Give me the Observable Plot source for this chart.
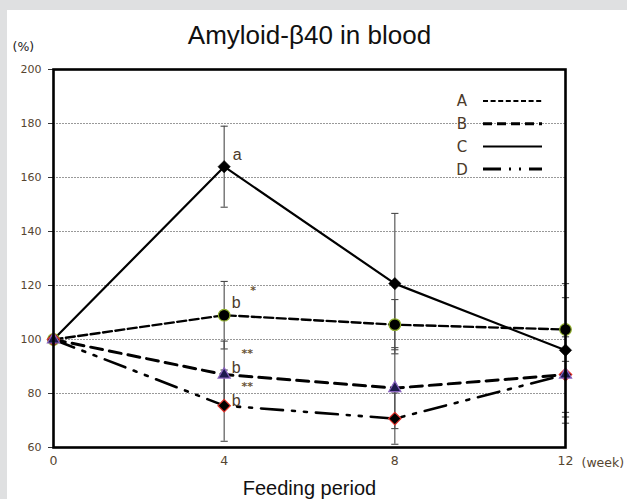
<!DOCTYPE html>
<html>
<head>
<meta charset="utf-8">
<script src="https://cdn.jsdelivr.net/npm/d3@7"></script>
<script src="https://cdn.jsdelivr.net/npm/@observablehq/plot@0.6"></script>
<style>
  html, body { margin: 0; padding: 0; width: 627px; height: 499px; overflow: hidden; background: #dfe0e1; }
  #panel { position: absolute; left: 7px; top: 10px; width: 620px; height: 489px; background: #ffffff; }
  #legend { position: absolute; left: 443px; top: 78px; }
  svg { overflow: visible; }
</style>
</head>
<body>
<div id="panel"></div>
<script>
// ---------- data ----------
const weeks = [0, 4, 8, 12];
const seriesNames = ["A", "B", "C", "D"];
const valuesA = [100, 109, 105.5, 103.7];
const errorsA = [0, 12.5, 9.3, 11.8];
const valuesB = [100, 87, 82, 87];
const errorsB = [0, 12.4, 15, 14];
const valuesC = [100, 164, 120.7, 96];
const errorsC = [0, 15, 26, 24.7];
const valuesD = [100, 75.5, 70.7, 87];
const errorsD = [0, 13.2, 9.5, 18];
const yTicks = [60, 80, 100, 120, 140, 160, 180, 200];
const yGrid = [80, 100, 120, 140, 160, 180];
const xTicks = [0, 4, 8, 12];
const titleText = "Amyloid-\u03B240 in blood";
const yUnit = "(%)";
const xUnit = "(week)";
const xTitle = "Feeding period";
// significance labels at week 4
const annotSeries = ["C", "A", "B", "D"];
const annotLetters = ["a", "b", "b", "b"];
const annotStars = ["", "*", "**", "**"];
const annotWeek = 4;

// ---------- table ----------
const valuesBy = {A: valuesA, B: valuesB, C: valuesC, D: valuesD};
const errorsBy = {A: errorsA, B: errorsB, C: errorsC, D: errorsD};
const rows = seriesNames.flatMap(s => weeks.map((w, i) => ({series: s, week: w, value: valuesBy[s][i], err: errorsBy[s][i]})));
const errRows = rows.filter(d => d.err > 0);
const caps = errRows.flatMap(d => [{week: d.week, y: d.value - d.err}, {week: d.week, y: d.value + d.err}]);

// ---------- styles ----------
const lineStyle = {
  A: {strokeWidth: 2.4, strokeDasharray: "9,3.5"},
  B: {strokeWidth: 3, strokeDasharray: "12,7"},
  C: {strokeWidth: 2.2, strokeDasharray: null},
  D: {strokeWidth: 2.6, strokeDasharray: "22,9,3,9,3,9"}
};
const legendDash = {A: "5,2.6", B: "9,5", C: null, D: "18,8,2,8,2,8"};
const legendWidth = {A: 2, B: 3, C: 2, D: 3};
const dotStyle = {
  A: {symbol: "circle", r: 5.8, fill: "#000", stroke: "#8fae2c", strokeWidth: 1.2},
  C: {symbol: "diamond2", r: 5.6, fill: "#000", stroke: "#000", strokeWidth: 0.5},
  D: {symbol: "diamond2", r: 5.6, fill: "#000", stroke: "#e0302a", strokeWidth: 1.2},
  B: {symbol: "triangle2", r: 5.8, fill: "#1d1a4e", stroke: "#8a64c0", strokeWidth: 1.2}
};
const dotOrder = ["A", "C", "D", "B"];
const capSymbol = {draw(ctx, size) { const w = Math.sqrt(size / Math.PI); ctx.moveTo(-w, 0); ctx.lineTo(w, 0); }};
const labelColor = "#56452f";
const valueAt = (s, w) => valuesBy[s][weeks.indexOf(w)];
const annotOffsets = {C: {dx: 13, dy: -12, sdx: 0, sdy: 0}, A: {dx: 12, dy: -12, sdx: 29, sdy: -25}, B: {dx: 12, dy: -7, sdx: 23, sdy: -21}, D: {dx: 12, dy: -5, sdx: 23, sdy: -19}};

const marks = [
  Plot.gridY(yGrid, {stroke: "#8d8d8d", strokeOpacity: 1, strokeWidth: 0.9, strokeDasharray: "2,1"}),
  Plot.axisY(yTicks, {tickSize: 5, tickPadding: 7, fontSize: 11, fontFamily: "DejaVu Sans", fill: labelColor, stroke: "#333", label: null}),
  Plot.axisX(xTicks, {tickSize: 0, tickPadding: 9, fontSize: 12.5, fontFamily: "DejaVu Sans", fill: labelColor, label: null}),
  Plot.ruleX(errRows, {x: "week", y1: d => d.value - d.err, y2: d => d.value + d.err, stroke: "#4a4a4a", strokeWidth: 1.1}),
  Plot.dot(caps, {x: "week", y: "y", symbol: capSymbol, r: 3.6, fill: "none", stroke: "#4a4a4a", strokeWidth: 1.1}),
  ...seriesNames.map(s => Plot.line(rows.filter(d => d.series === s), {x: "week", y: "value", stroke: "#000", ...lineStyle[s]})),
  ...dotOrder.map(s => Plot.dot(rows.filter(d => d.series === s), {x: "week", y: "value", ...dotStyle[s]})),
  Plot.frame({stroke: "#000", strokeWidth: 2.6}),
  ...annotSeries.map((s, i) => Plot.text([annotLetters[i]], {x: annotWeek, y: valueAt(s, annotWeek), text: d => d, dx: annotOffsets[s].dx, dy: annotOffsets[s].dy, fontSize: 16, fontFamily: "Liberation Sans", fill: "#4b3b2b"})),
  ...annotSeries.map((s, i) => Plot.text([annotStars[i]], {x: annotWeek, y: valueAt(s, annotWeek), text: d => d, dx: annotOffsets[s].sdx, dy: annotOffsets[s].sdy, fontSize: 11, fontWeight: "bold", fontFamily: "DejaVu Sans", fill: "#6a5535"})),
  Plot.text([titleText], {text: d => d, frameAnchor: "top", dy: -34, fontSize: 26, fontFamily: "Liberation Sans", fill: "#111", lineAnchor: "middle"}),
  Plot.text([yUnit], {text: d => d, frameAnchor: "top-left", dx: -41, dy: -23, textAnchor: "start", fontSize: 12.5, fontFamily: "DejaVu Sans", fill: "#222", lineAnchor: "middle"}),
  Plot.text([xUnit], {text: d => d, frameAnchor: "bottom-right", dx: 16, dy: 15, textAnchor: "start", fontSize: 12.5, fontFamily: "DejaVu Sans", fill: labelColor, lineAnchor: "middle"}),
  Plot.text([xTitle], {text: d => d, frameAnchor: "bottom", dy: 41, fontSize: 20, fontFamily: "Liberation Sans", fill: "#111", lineAnchor: "middle"})
];

const chart = Plot.plot({
  width: 620,
  height: 489,
  marginLeft: 46,
  marginRight: 62,
  marginTop: 59,
  marginBottom: 52,
  x: {domain: [0, 12]},
  y: {domain: [60, 200]},
  style: {background: "transparent", overflow: "visible"},
  marks
});
document.getElementById("panel").appendChild(chart);

// ---------- legend ----------
const rowGap = 22.7;
const leg = d3.select("body").append("svg").attr("id", "legend").attr("width", 110).attr("height", 100);
const g = leg.selectAll("g").data(seriesNames).join("g").attr("transform", (d, i) => `translate(0,${23 + i * rowGap})`);
g.append("text").text(d => d).attr("x", 19).attr("text-anchor", "middle").attr("dy", "0.36em")
  .attr("font-family", "DejaVu Sans").attr("font-size", 15).attr("fill", "#4b3b2b");
g.append("line").attr("x1", 40).attr("x2", 99).attr("y1", 0).attr("y2", 0)
  .attr("stroke", "#000").attr("stroke-width", d => legendWidth[d]).attr("stroke-dasharray", d => legendDash[d]);
</script>
</body>
</html>
